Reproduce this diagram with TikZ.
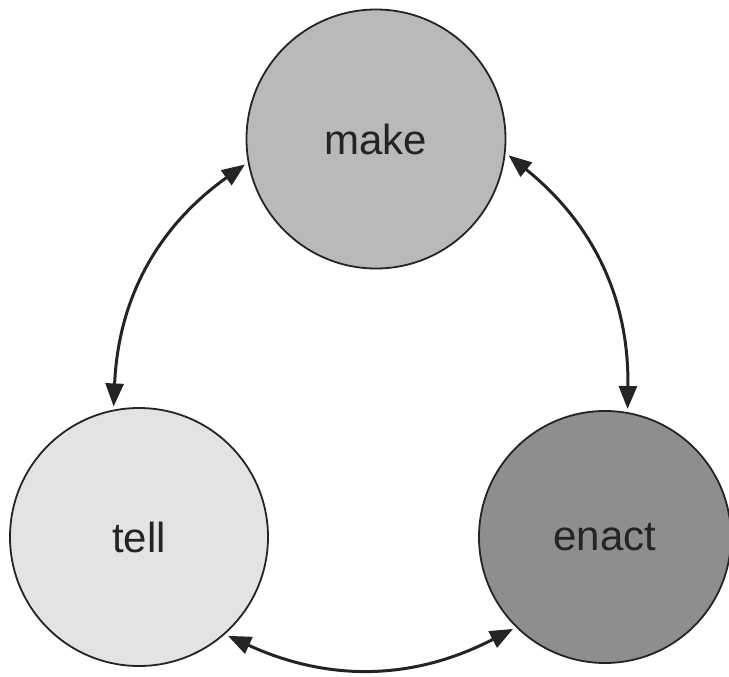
\documentclass[tikz,border=0pt]{standalone}
\usepackage{fontspec}
\setmainfont{Liberation Sans}
\usetikzlibrary{arrows.meta}
\definecolor{makegray}{HTML}{B9B9B9}
\definecolor{tellgray}{HTML}{E3E3E3}
\definecolor{enactgray}{HTML}{8E8E8E}
\definecolor{inkgray}{HTML}{242424}
\begin{document}
\begin{tikzpicture}[x=1pt,y=-1pt,
  stage/.style={circle,draw=inkgray,line width=1.8pt,outer sep=4pt,inner sep=0pt,
    minimum size=#1,font=\fontsize{42}{48}\selectfont,text=inkgray},
  link/.style={{Triangle[length=23pt,width=18pt]}-{Triangle[length=23pt,width=18pt]},
    line width=3pt,draw=inkgray}]
\useasboundingbox (0,0) rectangle (729,677);
% the three stages
\node[stage=259pt,fill=makegray] (make) at (376,139) {make};
\node[stage=258pt,fill=tellgray] (tell) at (139,537) {tell};
\node[stage=252pt,fill=enactgray] (enact) at (605,537) {enact};
% two-way links
\draw[link] (make.191) to[bend right=26] (tell.101);
\draw[link] (make.-7) to[bend left=26] (enact.80);
\draw[link] (tell.-48) to[bend right=26] (enact.225);
\end{tikzpicture}
\end{document}
